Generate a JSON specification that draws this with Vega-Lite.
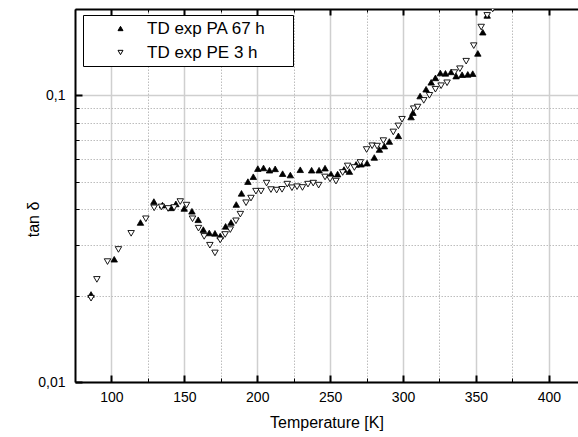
{
  "$schema": "https://vega.github.io/schema/vega-lite/v6.json",
  "width": 503,
  "height": 373,
  "autosize": "none",
  "padding": {"left": 75, "top": 9, "right": 0, "bottom": 55},
  "background": "white",
  "config": {
    "font": "Liberation Sans",
    "view": {"stroke": null},
    "axis": {"labelFont": "Liberation Sans", "titleFont": "Liberation Sans", "labelColor": "black", "titleColor": "black"},
    "legend": {"symbolStrokeColor": "black", "symbolStrokeWidth": 1}
  },
  "datasets": {
    "pts": [
      {"T":86,"tan":0.0202,"s":"A"},{"T":101.9,"tan":0.0268,"s":"A"},{"T":119.9,"tan":0.036,"s":"A"},{"T":129.1,"tan":0.0426,"s":"A"},{"T":135,"tan":0.0414,"s":"A"},{"T":140.8,"tan":0.0405,"s":"A"},{"T":144.2,"tan":0.0418,"s":"A"},{"T":149.9,"tan":0.0403,"s":"A"},{"T":155.2,"tan":0.0394,"s":"A"},{"T":159.5,"tan":0.0368,"s":"A"},{"T":163,"tan":0.034,"s":"A"},{"T":167.1,"tan":0.0331,"s":"A"},{"T":171,"tan":0.033,"s":"A"},{"T":174.6,"tan":0.0323,"s":"A"},{"T":178.3,"tan":0.0349,"s":"A"},{"T":182,"tan":0.036,"s":"A"},{"T":185.6,"tan":0.0416,"s":"A"},{"T":189.2,"tan":0.0455,"s":"A"},{"T":193.6,"tan":0.05,"s":"A"},{"T":197.3,"tan":0.052,"s":"A"},{"T":200.4,"tan":0.0555,"s":"A"},{"T":204.3,"tan":0.0558,"s":"A"},{"T":208.4,"tan":0.0548,"s":"A"},{"T":212.3,"tan":0.0554,"s":"A"},{"T":217.4,"tan":0.0533,"s":"A"},{"T":222.7,"tan":0.0527,"s":"A"},{"T":229.5,"tan":0.055,"s":"A"},{"T":237.3,"tan":0.0548,"s":"A"},{"T":242.4,"tan":0.0548,"s":"A"},{"T":246.5,"tan":0.0557,"s":"A"},{"T":250.6,"tan":0.0531,"s":"A"},{"T":255.1,"tan":0.0531,"s":"A"},{"T":259.5,"tan":0.0551,"s":"A"},{"T":263.2,"tan":0.0542,"s":"A"},{"T":267.8,"tan":0.0574,"s":"A"},{"T":271.2,"tan":0.0575,"s":"A"},{"T":275.3,"tan":0.058,"s":"A"},{"T":280.3,"tan":0.0607,"s":"A"},{"T":283.8,"tan":0.0647,"s":"A"},{"T":287.2,"tan":0.0665,"s":"A"},{"T":290.6,"tan":0.069,"s":"A"},{"T":296.8,"tan":0.0722,"s":"A"},{"T":305.5,"tan":0.084,"s":"A"},{"T":306.8,"tan":0.087,"s":"A"},{"T":311.7,"tan":0.0994,"s":"A"},{"T":315.8,"tan":0.105,"s":"A"},{"T":319.3,"tan":0.111,"s":"A"},{"T":322.2,"tan":0.115,"s":"A"},{"T":325.6,"tan":0.1196,"s":"A"},{"T":329.1,"tan":0.1193,"s":"A"},{"T":333,"tan":0.1207,"s":"A"},{"T":336.4,"tan":0.1167,"s":"A"},{"T":340.5,"tan":0.118,"s":"A"},{"T":344.4,"tan":0.1183,"s":"A"},{"T":347.8,"tan":0.119,"s":"A"},{"T":351.3,"tan":0.14,"s":"A"},{"T":354.7,"tan":0.166,"s":"A"},{"T":357.7,"tan":0.19,"s":"A"},
      {"T":86,"tan":0.0196,"s":"B"},{"T":90,"tan":0.0228,"s":"B"},{"T":97.3,"tan":0.0263,"s":"B"},{"T":104.8,"tan":0.029,"s":"B"},{"T":113.5,"tan":0.033,"s":"B"},{"T":123.6,"tan":0.0371,"s":"B"},{"T":129.3,"tan":0.0405,"s":"B"},{"T":134.3,"tan":0.0408,"s":"B"},{"T":138.9,"tan":0.0403,"s":"B"},{"T":143,"tan":0.0406,"s":"B"},{"T":147.2,"tan":0.0426,"s":"B"},{"T":151.5,"tan":0.0414,"s":"B"},{"T":155.6,"tan":0.0371,"s":"B"},{"T":159.7,"tan":0.0344,"s":"B"},{"T":163.6,"tan":0.0322,"s":"B"},{"T":167.5,"tan":0.03,"s":"B"},{"T":171,"tan":0.0282,"s":"B"},{"T":174.6,"tan":0.0313,"s":"B"},{"T":178,"tan":0.0327,"s":"B"},{"T":181.5,"tan":0.034,"s":"B"},{"T":185.4,"tan":0.0365,"s":"B"},{"T":188.4,"tan":0.0385,"s":"B"},{"T":192.3,"tan":0.0422,"s":"B"},{"T":195.7,"tan":0.0438,"s":"B"},{"T":199.1,"tan":0.0463,"s":"B"},{"T":202.6,"tan":0.0463,"s":"B"},{"T":206.4,"tan":0.0494,"s":"B"},{"T":209.4,"tan":0.0469,"s":"B"},{"T":213.3,"tan":0.0467,"s":"B"},{"T":217,"tan":0.047,"s":"B"},{"T":220.6,"tan":0.049,"s":"B"},{"T":223.8,"tan":0.0476,"s":"B"},{"T":227.3,"tan":0.048,"s":"B"},{"T":231,"tan":0.0477,"s":"B"},{"T":234.8,"tan":0.049,"s":"B"},{"T":238.4,"tan":0.0494,"s":"B"},{"T":242.1,"tan":0.0486,"s":"B"},{"T":246.5,"tan":0.0519,"s":"B"},{"T":249.9,"tan":0.0511,"s":"B"},{"T":254,"tan":0.0502,"s":"B"},{"T":258.6,"tan":0.0538,"s":"B"},{"T":262,"tan":0.0567,"s":"B"},{"T":266.6,"tan":0.056,"s":"B"},{"T":270.7,"tan":0.0583,"s":"B"},{"T":275,"tan":0.0647,"s":"B"},{"T":278.8,"tan":0.0667,"s":"B"},{"T":282.2,"tan":0.0665,"s":"B"},{"T":286.5,"tan":0.0695,"s":"B"},{"T":293.3,"tan":0.0745,"s":"B"},{"T":296.8,"tan":0.0782,"s":"B"},{"T":299.3,"tan":0.0825,"s":"B"},{"T":307.3,"tan":0.0898,"s":"B"},{"T":310,"tan":0.091,"s":"B"},{"T":314.2,"tan":0.096,"s":"B"},{"T":318.1,"tan":0.1,"s":"B"},{"T":322.2,"tan":0.105,"s":"B"},{"T":326.1,"tan":0.108,"s":"B"},{"T":330.2,"tan":0.1106,"s":"B"},{"T":335.3,"tan":0.12,"s":"B"},{"T":339,"tan":0.1238,"s":"B"},{"T":343.3,"tan":0.1315,"s":"B"},{"T":348.5,"tan":0.149,"s":"B"},{"T":353.6,"tan":0.173,"s":"B"},{"T":357.7,"tan":0.19,"s":"B"},{"T":361.5,"tan":0.2,"s":"B"}
    ]
  },
  "data": {"name": "pts"},
  "resolve": {"axis": {"x": "independent", "y": "independent"}, "scale": {"x": "shared", "y": "shared"}},
  "layer": [
    {
      "transform": [{"filter": "datum.s === 'A'"}],
      "mark": {"type": "point", "filled": false, "strokeWidth": 0.8, "opacity": 1, "size": 42, "clip": true},
      "encoding": {
        "x": {
          "field": "T", "type": "quantitative",
          "scale": {"domain": [75, 420], "nice": false, "zero": false},
          "axis": {
            "orient": "bottom",
            "values": [100,125,150,175,200,225,250,275,300,325,350,375,400],
            "labelExpr": "datum.value % 50 === 0 ? datum.label : ''",
            "format": "d",
            "labelFontSize": 14,
            "labelPadding": 15,
            "labelFlush": false,
            "title": "Temperature [K]",
            "titleFontSize": 16,
            "titleFontWeight": "normal",
            "titlePadding": 10,
            "domainColor": "black",
            "domainWidth": 2,
            "tickColor": "black",
            "tickSize": {"condition": {"test": "datum.value % 50 === 0", "value": -7}, "value": -4},
            "tickWidth": {"condition": {"test": "datum.value % 50 === 0", "value": 2}, "value": 1},
            "grid": true,
            "gridColor": {"condition": {"test": "datum.value % 50 === 0", "value": "#cfcfcf"}, "value": "#bdbdbd"},
            "gridWidth": {"condition": {"test": "datum.value % 50 === 0", "value": 1.5}, "value": 1},
            "gridDash": {"condition": {"test": "datum.value % 50 === 0", "value": []}, "value": [1.5, 1.5]}
          }
        },
        "y": {
          "field": "tan", "type": "quantitative",
          "scale": {"type": "log", "domain": [0.01, 0.2], "nice": false},
          "axis": {
            "orient": "left",
            "values": [0.01,0.02,0.03,0.04,0.05,0.06,0.07,0.08,0.09,0.1,0.2],
            "labelExpr": "datum.value === 0.1 ? '0,1' : (datum.value === 0.01 ? '0,01' : '')",
            "labelFontSize": 14,
            "labelPadding": 17,
            "labelFlush": false,
            "title": "tan δ",
            "titleFontSize": 16,
            "titleFontWeight": "normal",
            "titlePadding": -4,
            "titleY": 210,
            "domainColor": "black",
            "domainWidth": 2,
            "tickColor": "black",
            "tickSize": {"condition": {"test": "datum.value === 0.1 || datum.value === 0.01", "value": -7}, "value": -4},
            "tickWidth": {"condition": {"test": "datum.value === 0.1 || datum.value === 0.01", "value": 2}, "value": 1},
            "grid": true,
            "gridColor": {"condition": {"test": "datum.value === 0.1 || datum.value === 0.01", "value": "#cfcfcf"}, "value": "#bdbdbd"},
            "gridWidth": {"condition": {"test": "datum.value === 0.1 || datum.value === 0.01", "value": 1.5}, "value": 1},
            "gridDash": {"condition": {"test": "datum.value === 0.1 || datum.value === 0.01", "value": []}, "value": [1.5, 1.5]}
          }
        },
        "shape": {"field": "s", "type": "nominal", "scale": {"domain": ["A", "B"], "range": ["triangle-up", "triangle-down"]},
          "legend": {
            "orient": "none", "legendX": 8, "legendY": 6, "title": null,
            "strokeColor": "black", "fillColor": "white", "padding": 5,
            "symbolOffset": 24, "labelOffset": 18, "symbolSize": 25, "symbolStrokeWidth": 1,
            "labelFontSize": 17, "labelFont": "Liberation Sans", "labelFontWeight": "normal", "labelColor": "black", "rowPadding": 6, "labelLimit": 300,
            "labelExpr": "(datum.value === 'A' ? 'TD exp PA 67 h' : 'TD exp PE 3 h') + '\u00a0\u00a0\u2800'"
          }
        },
        "fill": {"field": "s", "type": "nominal", "scale": {"domain": ["A", "B"], "range": ["black", "white"]},
          "legend": {
            "orient": "none", "legendX": 8, "legendY": 6, "title": null,
            "strokeColor": "black", "fillColor": "white", "padding": 5,
            "symbolOffset": 24, "labelOffset": 18, "symbolSize": 25, "symbolStrokeWidth": 1,
            "labelFontSize": 17, "labelFont": "Liberation Sans", "labelFontWeight": "normal", "labelColor": "black", "rowPadding": 6, "labelLimit": 300,
            "labelExpr": "(datum.value === 'A' ? 'TD exp PA 67 h' : 'TD exp PE 3 h') + '\u00a0\u00a0\u2800'"
          }
        },
        "stroke": {"field": "s", "type": "nominal", "scale": {"domain": ["A", "B"], "range": ["black", "black"]},
          "legend": {
            "orient": "none", "legendX": 8, "legendY": 6, "title": null,
            "strokeColor": "black", "fillColor": "white", "padding": 5,
            "symbolOffset": 24, "labelOffset": 18, "symbolSize": 25, "symbolStrokeWidth": 1,
            "labelFontSize": 17, "labelFont": "Liberation Sans", "labelFontWeight": "normal", "labelColor": "black", "rowPadding": 6, "labelLimit": 300,
            "labelExpr": "(datum.value === 'A' ? 'TD exp PA 67 h' : 'TD exp PE 3 h') + '\u00a0\u00a0\u2800'"
          }
        }
      }
    },
    {
      "transform": [{"filter": "datum.s === 'B'"}],
      "mark": {"type": "point", "filled": false, "strokeWidth": 0.9, "opacity": 1, "size": 42, "clip": true},
      "encoding": {
        "x": {
          "field": "T", "type": "quantitative",
          "axis": {
            "orient": "top",
            "values": [100,125,150,175,200,225,250,275,300,325,350,375,400],
            "labels": false,
            "title": null,
            "grid": false,
            "domainColor": "black",
            "domainWidth": 2,
            "tickColor": "black",
            "tickSize": {"condition": {"test": "datum.value % 50 === 0", "value": -6}, "value": -3},
            "tickWidth": {"condition": {"test": "datum.value % 50 === 0", "value": 2}, "value": 1}
          }
        },
        "y": {"field": "tan", "type": "quantitative", "axis": null},
        "shape": {"field": "s", "type": "nominal", "legend": null},
        "fill": {"field": "s", "type": "nominal", "legend": null},
        "stroke": {"field": "s", "type": "nominal", "legend": null}
      }
    }
  ]
}
